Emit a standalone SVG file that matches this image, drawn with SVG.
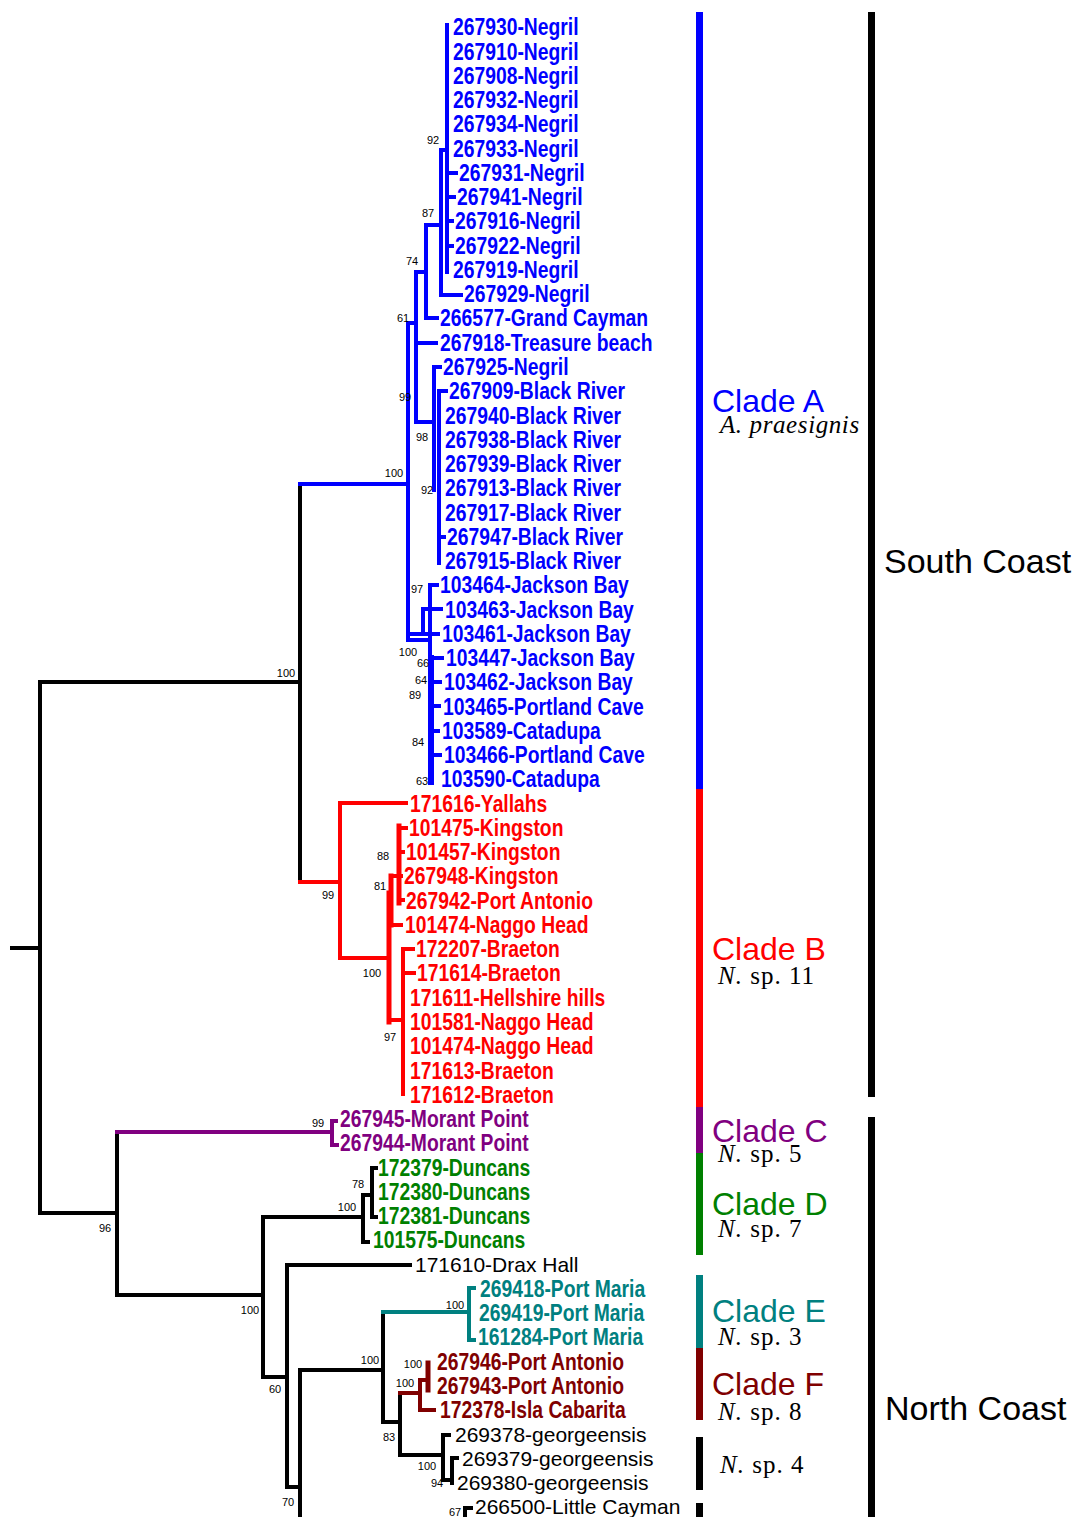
<svg xmlns="http://www.w3.org/2000/svg" width="1075" height="1517" viewBox="0 0 1075 1517">
<style>
text{font-family:"Liberation Sans",Arial,sans-serif}
.t{font-weight:bold;font-size:23px}
.r{font-size:21px;fill:#000}
.bs{font-size:11px;text-anchor:middle;fill:#000}
.cl{font-size:32px}
.sp{font-family:"Liberation Serif","Times New Roman",serif;font-size:25px;fill:#000;letter-spacing:1px}
.it{font-style:italic}
.b{fill:#0000ff}.rd{fill:#ff0000}.pu{fill:#800080}.gr{fill:#008000}.te{fill:#008080}.dr{fill:#800000}
.lk path{fill:none;stroke-width:4;stroke-linecap:square}
.lb{stroke:#0000ff}.lr{stroke:#ff0000}.lp{stroke:#800080}.lg{stroke:#000}.lt{stroke:#008080}.ld{stroke:#800000}
</style>
<rect width="1075" height="1517" fill="#fff"/>
<g id="connectors" class="lk">
<path class="lg" d="M12,948H40M40,682V1213M40,682H300M300,484V882M40,1213H117M117,1132V1295M117,1295H263M263,1217V1377M263,1217H363M363,1195V1242M363,1242H368M363,1195H372M372,1168V1217M372,1168H376M372,1217H376M263,1377H287M287,1265V1487M287,1265H410M287,1487H300M300,1370V1520M300,1370H383M383,1312V1422M383,1422H400M400,1393V1455M400,1455H443M443,1435V1480M443,1435H449M443,1480H452M452,1458V1483M452,1458H457M465,1508V1520M465,1508H471"/>
<path class="lb" d="M300,484H408M408,323V640M408,323H416M416,272V422M416,272H426M416,343H436M426,225V318M426,225H441M426,318H437M441,150V295M441,150H447M441,295H461M447,25V272M447,173H456M447,197H454M447,221H452M447,246H452M416,422H434M434,367V490M434,367H440M439,391V563M439,391H446M439,537H444M408,634H438M423,609V630M423,609H441M430,585V660M430,585H437M408,640H430M431,682H440M431,706H439M431,731H438M431,755H440M431,658H442"/>
<path class="lb" style="stroke-width:6" d="M431,658V782"/>
<path class="lr" d="M300,882H340M340,803V958M340,803H406M340,958H389M389,1020H403M391,925H401M391,876H399M399,828H406M399,852H403M399,876H401M399,900H403M403,949V1094M403,949H413M403,973H414"/>
<path class="lr" style="stroke-width:5" d="M389,893V1022M399,826V903M391,876V925"/>
<path class="lp" d="M117,1132H332M332,1121V1145M332,1121H336M332,1145H337"/>
<path class="lt" d="M383,1312H469M469,1288V1340M469,1288H474M469,1340H474"/>
<path class="ld" d="M400,1393H420M420,1380V1410M420,1410H434M420,1380H428"/>
<path class="ld" style="stroke-width:5" d="M428,1363V1390"/>
</g>
<g id="bootstrap">
<text class="bs" x="433" y="144">92</text>
<text class="bs" x="428" y="217">87</text>
<text class="bs" x="412" y="265">74</text>
<text class="bs" x="403" y="322">61</text>
<text class="bs" x="405" y="401">99</text>
<text class="bs" x="422" y="441">98</text>
<text class="bs" x="394" y="477">100</text>
<text class="bs" x="427" y="494">92</text>
<text class="bs" x="417" y="593">97</text>
<text class="bs" x="408" y="656">100</text>
<text class="bs" x="423" y="667">66</text>
<text class="bs" x="421" y="684">64</text>
<text class="bs" x="415" y="699">89</text>
<text class="bs" x="418" y="746">84</text>
<text class="bs" x="422" y="785">63</text>
<text class="bs" x="286" y="677">100</text>
<text class="bs" x="328" y="899">99</text>
<text class="bs" x="383" y="860">88</text>
<text class="bs" x="380" y="890">81</text>
<text class="bs" x="372" y="977">100</text>
<text class="bs" x="390" y="1041">97</text>
<text class="bs" x="318" y="1127">99</text>
<text class="bs" x="358" y="1188">78</text>
<text class="bs" x="347" y="1211">100</text>
<text class="bs" x="105" y="1232">96</text>
<text class="bs" x="250" y="1314">100</text>
<text class="bs" x="275" y="1393">60</text>
<text class="bs" x="455" y="1309">100</text>
<text class="bs" x="370" y="1364">100</text>
<text class="bs" x="413" y="1368">100</text>
<text class="bs" x="405" y="1387">100</text>
<text class="bs" x="389" y="1441">83</text>
<text class="bs" x="427" y="1470">100</text>
<text class="bs" x="437" y="1487">94</text>
<text class="bs" x="288" y="1506">70</text>
<text class="bs" x="455" y="1516">67</text>
</g>
<g id="tips">
<g id="tip1"><text class="t b" transform="translate(453,35.3) scale(0.84,1)">267930-Negril</text></g>
<g id="tip2"><text class="t b" transform="translate(453,59.6) scale(0.84,1)">267910-Negril</text></g>
<g id="tip3"><text class="t b" transform="translate(453,83.8) scale(0.84,1)">267908-Negril</text></g>
<g id="tip4"><text class="t b" transform="translate(453,108.1) scale(0.84,1)">267932-Negril</text></g>
<g id="tip5"><text class="t b" transform="translate(453,132.3) scale(0.84,1)">267934-Negril</text></g>
<g id="tip6"><text class="t b" transform="translate(453,156.6) scale(0.84,1)">267933-Negril</text></g>
<g id="tip7"><text class="t b" transform="translate(459,180.9) scale(0.84,1)">267931-Negril</text></g>
<g id="tip8"><text class="t b" transform="translate(457,205.1) scale(0.84,1)">267941-Negril</text></g>
<g id="tip9"><text class="t b" transform="translate(455,229.4) scale(0.84,1)">267916-Negril</text></g>
<g id="tip10"><text class="t b" transform="translate(455,253.6) scale(0.84,1)">267922-Negril</text></g>
<g id="tip11"><text class="t b" transform="translate(453,277.9) scale(0.84,1)">267919-Negril</text></g>
<g id="tip12"><text class="t b" transform="translate(464,302.2) scale(0.84,1)">267929-Negril</text></g>
<g id="tip13"><text class="t b" transform="translate(440,326.4) scale(0.84,1)">266577-Grand Cayman</text></g>
<g id="tip14"><text class="t b" transform="translate(440,350.7) scale(0.84,1)">267918-Treasure beach</text></g>
<g id="tip15"><text class="t b" transform="translate(443,374.9) scale(0.84,1)">267925-Negril</text></g>
<g id="tip16"><text class="t b" transform="translate(449,399.2) scale(0.84,1)">267909-Black River</text></g>
<g id="tip17"><text class="t b" transform="translate(445,423.5) scale(0.84,1)">267940-Black River</text></g>
<g id="tip18"><text class="t b" transform="translate(445,447.7) scale(0.84,1)">267938-Black River</text></g>
<g id="tip19"><text class="t b" transform="translate(445,472) scale(0.84,1)">267939-Black River</text></g>
<g id="tip20"><text class="t b" transform="translate(445,496.2) scale(0.84,1)">267913-Black River</text></g>
<g id="tip21"><text class="t b" transform="translate(445,520.5) scale(0.84,1)">267917-Black River</text></g>
<g id="tip22"><text class="t b" transform="translate(447,544.8) scale(0.84,1)">267947-Black River</text></g>
<g id="tip23"><text class="t b" transform="translate(445,569) scale(0.84,1)">267915-Black River</text></g>
<g id="tip24"><text class="t b" transform="translate(440,593.3) scale(0.84,1)">103464-Jackson Bay</text></g>
<g id="tip25"><text class="t b" transform="translate(445,617.5) scale(0.84,1)">103463-Jackson Bay</text></g>
<g id="tip26"><text class="t b" transform="translate(442,641.8) scale(0.84,1)">103461-Jackson Bay</text></g>
<g id="tip27"><text class="t b" transform="translate(446,666.1) scale(0.84,1)">103447-Jackson Bay</text></g>
<g id="tip28"><text class="t b" transform="translate(444,690.3) scale(0.84,1)">103462-Jackson Bay</text></g>
<g id="tip29"><text class="t b" transform="translate(443,714.6) scale(0.84,1)">103465-Portland Cave</text></g>
<g id="tip30"><text class="t b" transform="translate(442,738.8) scale(0.84,1)">103589-Catadupa</text></g>
<g id="tip31"><text class="t b" transform="translate(444,763.1) scale(0.84,1)">103466-Portland Cave</text></g>
<g id="tip32"><text class="t b" transform="translate(441,787.4) scale(0.84,1)">103590-Catadupa</text></g>
<g id="tip33"><text class="t rd" transform="translate(410,811.6) scale(0.84,1)">171616-Yallahs</text></g>
<g id="tip34"><text class="t rd" transform="translate(409,835.9) scale(0.84,1)">101475-Kingston</text></g>
<g id="tip35"><text class="t rd" transform="translate(406,860.1) scale(0.84,1)">101457-Kingston</text></g>
<g id="tip36"><text class="t rd" transform="translate(404,884.4) scale(0.84,1)">267948-Kingston</text></g>
<g id="tip37"><text class="t rd" transform="translate(406,908.7) scale(0.84,1)">267942-Port Antonio</text></g>
<g id="tip38"><text class="t rd" transform="translate(405,932.9) scale(0.84,1)">101474-Naggo Head</text></g>
<g id="tip39"><text class="t rd" transform="translate(416,957.2) scale(0.84,1)">172207-Braeton</text></g>
<g id="tip40"><text class="t rd" transform="translate(417,981.4) scale(0.84,1)">171614-Braeton</text></g>
<g id="tip41"><text class="t rd" transform="translate(410,1005.7) scale(0.84,1)">171611-Hellshire hills</text></g>
<g id="tip42"><text class="t rd" transform="translate(410,1030) scale(0.84,1)">101581-Naggo Head</text></g>
<g id="tip43"><text class="t rd" transform="translate(410,1054.2) scale(0.84,1)">101474-Naggo Head</text></g>
<g id="tip44"><text class="t rd" transform="translate(410,1078.5) scale(0.84,1)">171613-Braeton</text></g>
<g id="tip45"><text class="t rd" transform="translate(410,1102.7) scale(0.84,1)">171612-Braeton</text></g>
<g id="tip46"><text class="t pu" transform="translate(340,1127) scale(0.84,1)">267945-Morant Point</text></g>
<g id="tip47"><text class="t pu" transform="translate(340,1151.3) scale(0.84,1)">267944-Morant Point</text></g>
<g id="tip48"><text class="t gr" transform="translate(378,1175.5) scale(0.84,1)">172379-Duncans</text></g>
<g id="tip49"><text class="t gr" transform="translate(378,1199.8) scale(0.84,1)">172380-Duncans</text></g>
<g id="tip50"><text class="t gr" transform="translate(378,1224) scale(0.84,1)">172381-Duncans</text></g>
<g id="tip51"><text class="t gr" transform="translate(373,1248.3) scale(0.84,1)">101575-Duncans</text></g>
<g id="tip52"><text class="r" x="415" y="1271.8">171610-Drax Hall</text></g>
<g id="tip53"><text class="t te" transform="translate(480,1296.8) scale(0.84,1)">269418-Port Maria</text></g>
<g id="tip54"><text class="t te" transform="translate(479,1321.1) scale(0.84,1)">269419-Port Maria</text></g>
<g id="tip55"><text class="t te" transform="translate(478,1345.3) scale(0.84,1)">161284-Port Maria</text></g>
<g id="tip56"><text class="t dr" transform="translate(437,1369.6) scale(0.84,1)">267946-Port Antonio</text></g>
<g id="tip57"><text class="t dr" transform="translate(437,1393.9) scale(0.84,1)">267943-Port Antonio</text></g>
<g id="tip58"><text class="t dr" transform="translate(440,1418.1) scale(0.84,1)">172378-Isla Cabarita</text></g>
<g id="tip59"><text class="r" x="455" y="1441.6">269378-georgeensis</text></g>
<g id="tip60"><text class="r" x="462" y="1465.8">269379-georgeensis</text></g>
<g id="tip61"><text class="r" x="457" y="1490.1">269380-georgeensis</text></g>
<g id="tip62"><text class="r" x="475" y="1514.4">266500-Little Cayman</text></g>
</g>
<g id="clade-bars">
<rect x="696" y="12" width="7" height="777" fill="#0000ff"/>
<rect x="696" y="789" width="7" height="318" fill="#ff0000"/>
<rect x="696" y="1107" width="7" height="46" fill="#800080"/>
<rect x="696" y="1153" width="7" height="102" fill="#008000"/>
<rect x="696" y="1275" width="7" height="73" fill="#008080"/>
<rect x="696" y="1348" width="7" height="72" fill="#800000"/>
<rect x="696" y="1437" width="7" height="53" fill="#000"/>
<rect x="696" y="1503" width="7" height="14" fill="#000"/>
<rect x="868" y="12" width="7" height="1085" fill="#000"/>
<rect x="868" y="1117" width="7" height="400" fill="#000"/>
</g>
<g id="clade-labels">
<g id="cladeA"><text class="cl b" x="712" y="412">Clade A<tspan class="sp it" x="720" y="433" style="letter-spacing:0.6px;font-size:25px">A. praesignis</tspan></text></g>
<g id="cladeB"><text class="cl rd" x="712" y="960">Clade B<tspan class="sp" x="718" y="984"><tspan class="it">N.</tspan> sp. 11</tspan></text></g>
<g id="cladeC"><text class="cl pu" x="712" y="1142">Clade C<tspan class="sp" x="718" y="1162"><tspan class="it">N.</tspan> sp. 5</tspan></text></g>
<g id="cladeD"><text class="cl gr" x="712" y="1215">Clade D<tspan class="sp" x="718" y="1237"><tspan class="it">N.</tspan> sp. 7</tspan></text></g>
<g id="cladeE"><text class="cl te" x="712" y="1322">Clade E<tspan class="sp" x="718" y="1345"><tspan class="it">N.</tspan> sp. 3</tspan></text></g>
<g id="cladeF"><text class="cl dr" x="712" y="1395">Clade F<tspan class="sp" x="718" y="1420"><tspan class="it">N.</tspan> sp. 8</tspan></text></g>
<g id="sp4"><text class="sp" x="720" y="1473"><tspan class="it">N.</tspan> sp. 4</text></g>
<g id="south"><text x="884" y="573" style="font-size:34px">South Coast</text></g>
<g id="north"><text x="885" y="1420" style="font-size:34px">North Coast</text></g>
</g>
</svg>
